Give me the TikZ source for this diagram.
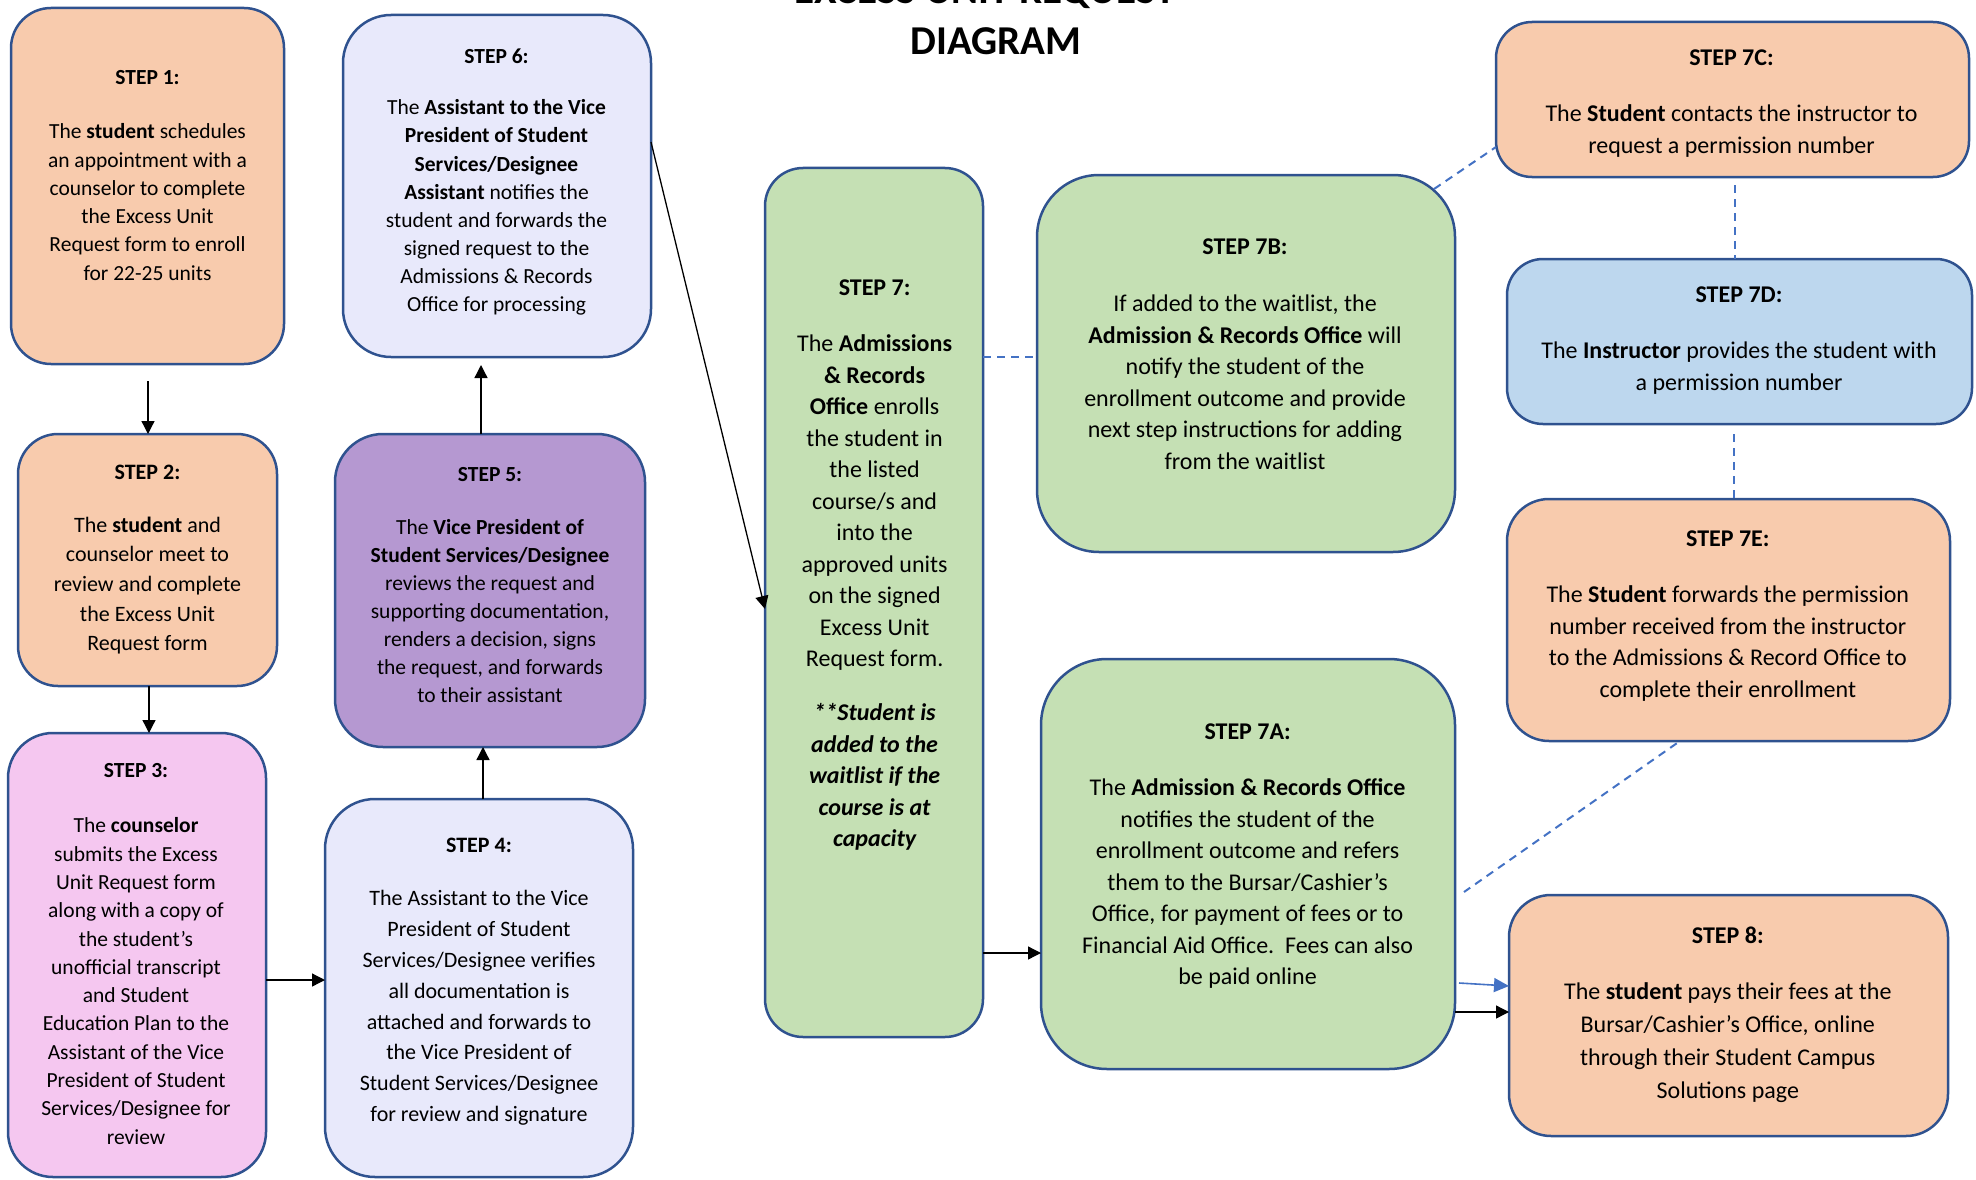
\documentclass[tikz,border=0pt]{standalone}
\usepackage{fontspec}
\setmainfont{Carlito}
\usetikzlibrary{arrows.meta,calc}
\definecolor{peach}{HTML}{F8CBAD}
\definecolor{lav}{HTML}{E8E9FB}
\definecolor{purp}{HTML}{B598D1}
\definecolor{pink}{HTML}{F5C7F0}
\definecolor{grn}{HTML}{C5E0B4}
\definecolor{lblue}{HTML}{BDD7EE}
\definecolor{bordc}{HTML}{2F528F}
\definecolor{dashc}{HTML}{4472C4}
\tikzset{
  box/.style={draw=bordc, line width=2.5pt, inner sep=0pt, outer sep=0pt},
  txt/.style={align=center, inner sep=0pt, text=black},
  arr/.style={line width=1.3pt, -{Triangle[length=13pt,width=13pt]}},
  barr/.style={draw=dashc, line width=1.6pt, -{Triangle[length=15pt,width=14pt]}, dashc},
  dsh/.style={draw=dashc, line width=2pt, dash pattern=on 8pt off 6pt},
  fA/.style={font=\fontsize{21.5}{28.3}\selectfont},
  fB/.style={font=\fontsize{22}{29.6}\selectfont},
  fC/.style={font=\fontsize{24}{31.5}\selectfont},
  hA/.style={font=\fontsize{21.5}{28.3}\selectfont\bfseries},
  hB/.style={font=\fontsize{22}{29.6}\selectfont\bfseries},
  hC/.style={font=\fontsize{24}{31.5}\selectfont\bfseries},
}
\begin{document}
\begin{tikzpicture}[x=1pt,y=-1pt]
\useasboundingbox (0,0) rectangle (1976,1180);

% title
\node[txt, anchor=base, font=\bfseries\fontsize{41}{50}\selectfont] (titletop) at (985,4) {EXCESS UNIT REQUEST};
\node[txt, anchor=base, font=\bfseries\fontsize{41}{50}\selectfont] (title) at (996,55) {DIAGRAM};

% boxes
\node[box, fill=peach, rounded corners=40pt, minimum width=273pt, minimum height=356pt] (s1) at (147.5,186) {};
\node[box, fill=peach, rounded corners=40pt, minimum width=259pt, minimum height=252pt] (s2) at (147.5,560) {};
\node[box, fill=pink, rounded corners=45pt, minimum width=258pt, minimum height=444pt] (s3) at (137,955) {};
\node[box, fill=lav, rounded corners=50pt, minimum width=308pt, minimum height=378pt] (s4) at (479,988) {};
\node[box, fill=purp, rounded corners=48pt, minimum width=310pt, minimum height=313pt] (s5) at (490,590.5) {};
\node[box, fill=lav, rounded corners=48pt, minimum width=308pt, minimum height=342pt] (s6) at (497,186) {};
\node[box, fill=grn, rounded corners=38pt, minimum width=218pt, minimum height=869pt] (s7) at (874,602.5) {};
\node[box, fill=grn, rounded corners=62pt, minimum width=418pt, minimum height=377pt] (s7b) at (1246,363.5) {};
\node[box, fill=grn, rounded corners=66pt, minimum width=414pt, minimum height=410pt] (s7a) at (1248,864) {};
\node[box, fill=peach, rounded corners=36pt, minimum width=473pt, minimum height=155pt] (s7c) at (1732.5,99.5) {};
\node[box, fill=lblue, rounded corners=36pt, minimum width=465pt, minimum height=165pt] (s7d) at (1739.5,341.5) {};
\node[box, fill=peach, rounded corners=42pt, minimum width=443pt, minimum height=242pt] (s7e) at (1728.5,620) {};
\node[box, fill=peach, rounded corners=42pt, minimum width=439pt, minimum height=241pt] (s8) at (1728.5,1015.5) {};

% texts
\node[txt, hA] (s1h) at (147.5,78) {STEP 1:};
\node[txt, fA] (s1t) at (147.5,202) {The \textbf{student} schedules\\ an appointment with a\\ counselor to complete\\ the Excess Unit\\ Request form to enroll\\ for 22-25 units};

\node[txt, hB] (s2h) at (147.5,472) {STEP 2:};
\node[txt, fB] (s2t) at (147.5,585.5) {The \textbf{student} and\\ counselor meet to\\ review and complete\\ the Excess Unit\\ Request form};

\node[txt, hA] (s3h) at (136,771) {STEP 3:};
\node[txt, fA] (s3t) at (136,981) {The \textbf{counselor}\\ submits the Excess\\ Unit Request form\\ along with a copy of\\ the student’s\\ unofficial transcript\\ and Student\\ Education Plan to the\\ Assistant of the Vice\\ President of Student\\ Services/Designee for\\ review};

\node[txt, hB] (s4h) at (479,845) {STEP 4:};
\node[txt, font=\fontsize{22}{30.8}\selectfont] (s4t) at (479,1008) {The Assistant to the Vice\\ President of Student\\ Services/Designee verifies\\ all documentation is\\ attached and forwards to\\ the Vice President of\\ Student Services/Designee\\ for review and signature};

\node[txt, hA] (s5h) at (490,475) {STEP 5:};
\node[txt, font=\fontsize{21.5}{28.1}\selectfont] (s5t) at (490,611) {The \textbf{Vice President of}\\ \textbf{Student Services/Designee}\\ reviews the request and\\ supporting documentation,\\ renders a decision, signs\\ the request, and forwards\\ to their assistant};

\node[txt, hA] (s6h) at (496.5,56.5) {STEP 6:};
\node[txt, font=\fontsize{21.5}{28.1}\selectfont] (s6t) at (496.5,207.5) {The \textbf{Assistant to the Vice}\\ \textbf{President of Student}\\ \textbf{Services/Designee}\\ \textbf{Assistant} notifies the\\ student and forwards the\\ signed request to the\\ Admissions \& Records\\ Office for processing};

\node[txt, hC] (s7h) at (874.6,288) {STEP 7:};
\node[txt, fC] (s7t) at (874.6,503) {The \textbf{Admissions}\\ \textbf{\& Records}\\ \textbf{Office} enrolls\\ the student in\\ the listed\\ course/s and\\ into the\\ approved units\\ on the signed\\ Excess Unit\\ Request form.};
\node[txt, font=\fontsize{24}{31.5}\selectfont\bfseries\itshape] (s7n) at (874.6,777) {**Student is\\ added to the\\ waitlist if the\\ course is at\\ capacity};

\node[txt, hC] (s7bh) at (1245,247) {STEP 7B:};
\node[txt, fC] (s7bt) at (1245,382.5) {If added to the waitlist, the\\ \textbf{Admission \& Records Office} will\\ notify the student of the\\ enrollment outcome and provide\\ next step instructions for adding\\ from the waitlist};

\node[txt, hC] (s7ah) at (1247.6,732) {STEP 7A:};
\node[txt, fC] (s7at) at (1247.6,883.5) {The \textbf{Admission \& Records Office}\\ notifies the student of the\\ enrollment outcome and refers\\ them to the Bursar/Cashier’s\\ Office, for payment of fees or to\\ Financial Aid Office.\ \ Fees can also\\ be paid online};

\node[txt, hC] (s7ch) at (1731.5,58) {STEP 7C:};
\node[txt, font=\fontsize{24}{32.8}\selectfont] (s7ct) at (1731.5,131) {The \textbf{Student} contacts the instructor to\\ request a permission number};

\node[txt, hC] (s7dh) at (1739,295) {STEP 7D:};
\node[txt, fC] (s7dt) at (1739,368) {The \textbf{Instructor} provides the student with\\ a permission number};

\node[txt, hC] (s7eh) at (1727.8,539) {STEP 7E:};
\node[txt, font=\fontsize{24}{31.9}\selectfont] (s7et) at (1727.8,643.5) {The \textbf{Student} forwards the permission\\ number received from the instructor\\ to the Admissions \& Record Office to\\ complete their enrollment};

\node[txt, hC] (s8h) at (1727.8,935) {STEP 8:};
\node[txt, font=\fontsize{24}{32.8}\selectfont] (s8t) at (1727.8,1042.5) {The \textbf{student} pays their fees at the\\ Bursar/Cashier’s Office, online\\ through their Student Campus\\ Solutions page};

% connectors
\draw[arr, shorten <=17pt] (s1.south -| 148,0) -- (s2.north -| 148,0);
\draw[arr] (s2.south -| 149,0) -- (s3.north -| 149,0);
\draw[arr] (s3.east |- 0,980) -- (s4.west |- 0,980);
\draw[arr] (s4.north -| 483,0) -- (s5.south -| 483,0);
\draw[arr, shorten >=8pt] (s5.north -| 481,0) -- (s6.south -| 481,0);
\draw[arr] (s6.east |- 0,142) -- (s7.west |- 0,609);
\draw[arr] (s7.east |- 0,953) -- (s7a.west |- 0,953);
\draw[dsh] (s7.east |- 0,357) -- (s7b.west |- 0,357);
\draw[dsh] ($(s7b.north east)+(-21,14)$) -- (s7c.west |- 0,147);
\draw[dsh, shorten <=8pt] (s7c.south -| 1735,0) -- (s7d.north -| 1735,0);
\draw[dsh, shorten <=10pt] (s7d.south -| 1734,0) -- (s7e.north -| 1734,0);
\draw[dsh, shorten <=4pt] (s7e.south -| 1680,0) -- ($(s7a.east |- 0,892)+(9,0)$);
\draw[barr] ($(s7a.east |- 0,983)+(4,0)$) -- (s8.west |- 0,986);
\draw[arr] (s7a.east |- 0,1012) -- (s8.west |- 0,1012);
\end{tikzpicture}
\end{document}
